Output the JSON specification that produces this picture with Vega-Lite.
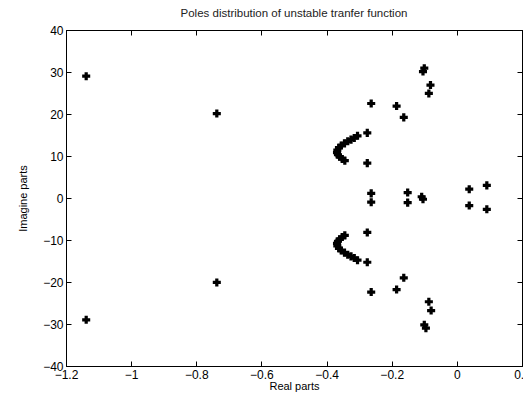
{
  "$schema": "https://vega.github.io/schema/vega-lite/v6.json",
  "width": 456,
  "height": 336,
  "autosize": "none",
  "padding": {"left": 66, "top": 30, "right": 1, "bottom": 33},
  "background": "white",
  "config": {
    "view": {"stroke": "black", "strokeWidth": 1},
    "font": "Liberation Sans",
    "axis": {"grid": false, "domainColor": "black", "tickColor": "black", "labelColor": "black", "titleColor": "black", "labelFont": "Liberation Sans", "titleFont": "Liberation Sans", "labelFontSize": 12, "titleFontSize": 11, "titleFontWeight": "normal"}
  },
  "title": {"text": "Poles distribution of unstable tranfer function", "fontSize": 11.5, "fontWeight": "normal", "font": "Liberation Sans", "color": "#222", "offset": 5, "anchor": "middle"},
  "data": {"values": [
    {"re": -1.138, "im": 29.0}, {"re": -1.138, "im": -29.0},
    {"re": -0.737, "im": 20.1}, {"re": -0.737, "im": -20.1},
    {"re": -0.263, "im": 22.5}, {"re": -0.263, "im": -22.4},
    {"re": -0.185, "im": 21.9}, {"re": -0.185, "im": -21.8},
    {"re": -0.163, "im": 19.2}, {"re": -0.163, "im": -19.0},
    {"re": -0.275, "im": 15.5}, {"re": -0.275, "im": -15.3},
    {"re": -0.275, "im": 8.3}, {"re": -0.275, "im": -8.2},
    {"re": -0.263, "im": 1.1}, {"re": -0.263, "im": -1.0},
    {"re": -0.151, "im": 1.3}, {"re": -0.151, "im": -1.1},
    {"re": -0.108, "im": 0.3}, {"re": -0.104, "im": -0.3},
    {"re": 0.038, "im": 2.1}, {"re": 0.038, "im": -1.8},
    {"re": 0.092, "im": 3.0}, {"re": 0.092, "im": -2.7},
    {"re": -0.100, "im": 30.9}, {"re": -0.104, "im": 30.1},
    {"re": -0.100, "im": -30.2}, {"re": -0.095, "im": -31.0},
    {"re": -0.081, "im": 26.9}, {"re": -0.086, "im": 24.9},
    {"re": -0.086, "im": -24.7}, {"re": -0.079, "im": -26.8},
    {"re": -0.305, "im": 14.8}, {"re": -0.315, "im": 14.3}, {"re": -0.325, "im": 13.9}, {"re": -0.335, "im": 13.5}, {"re": -0.345, "im": 13.0}, {"re": -0.355, "im": 12.5}, {"re": -0.362, "im": 12.0}, {"re": -0.367, "im": 11.4}, {"re": -0.368, "im": 10.8}, {"re": -0.365, "im": 10.3}, {"re": -0.360, "im": 9.8}, {"re": -0.352, "im": 9.3}, {"re": -0.344, "im": 8.9},
    {"re": -0.305, "im": -14.8}, {"re": -0.315, "im": -14.3}, {"re": -0.325, "im": -13.9}, {"re": -0.335, "im": -13.5}, {"re": -0.345, "im": -13.0}, {"re": -0.355, "im": -12.5}, {"re": -0.362, "im": -12.0}, {"re": -0.367, "im": -11.4}, {"re": -0.368, "im": -10.8}, {"re": -0.365, "im": -10.3}, {"re": -0.360, "im": -9.8}, {"re": -0.352, "im": -9.3}, {"re": -0.344, "im": -8.9}
  ]},
  "layer": [
    {
      "mark": {"type": "point", "shape": "cross", "filled": true, "color": "black", "size": 65, "opacity": 1},
      "encoding": {
        "x": {"field": "re", "type": "quantitative", "scale": {"domain": [-1.2, 0.2], "nice": false, "zero": false},
          "axis": {"orient": "bottom", "title": "Real parts", "values": [-1.2, -1, -0.8, -0.6, -0.4, -0.2, 0, 0.2], "format": "", "labelExpr": "datum.value == 0 ? '0' : replace(format(datum.value, '.1~f'), '-', '−')", "tickSize": -5, "labelPadding": 8, "titlePadding": 0, "labelFlush": false, "labelOverlap": false}},
        "y": {"field": "im", "type": "quantitative", "scale": {"domain": [-40, 40], "nice": false, "zero": false},
          "axis": {"orient": "left", "title": "Imagine parts", "values": [-40, -30, -20, -10, 0, 10, 20, 30, 40], "labelExpr": "replace(format(datum.value, 'd'), '-', '−')", "tickSize": -5, "labelPadding": 8, "titlePadding": 14, "labelFlush": false, "labelOverlap": false}}
      }
    },
    {
      "mark": {"type": "point", "opacity": 0},
      "encoding": {
        "x": {"field": "re", "type": "quantitative", "scale": {"domain": [-1.2, 0.2], "nice": false, "zero": false},
          "axis": {"orient": "top", "title": null, "labels": false, "values": [-1.2, -1, -0.8, -0.6, -0.4, -0.2, 0, 0.2], "tickSize": -5}},
        "y": {"field": "im", "type": "quantitative", "scale": {"domain": [-40, 40], "nice": false, "zero": false},
          "axis": {"orient": "right", "title": null, "labels": false, "values": [-40, -30, -20, -10, 0, 10, 20, 30, 40], "tickSize": -5}}
      }
    }
  ],
  "resolve": {"axis": {"x": "independent", "y": "independent"}}
}
